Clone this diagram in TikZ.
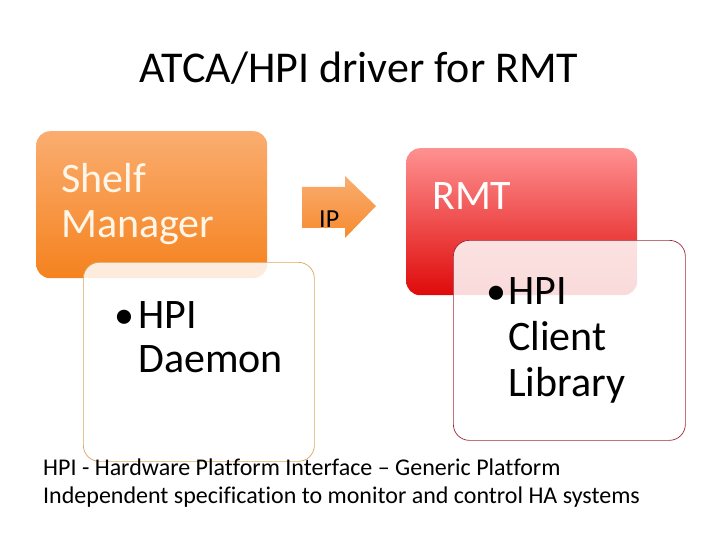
\documentclass[tikz,border=0pt]{standalone}
\usepackage{fontspec}
\setmainfont{Carlito}[Ligatures=NoCommon]
\usepackage{xcolor}
\usetikzlibrary{positioning}

\definecolor{orangetop}{HTML}{FAAD70}
\definecolor{orangebot}{HTML}{F5821E}
\definecolor{redtop}{HTML}{FF9191}
\definecolor{redbot}{HTML}{DF0A0A}
\definecolor{tanline}{HTML}{DDA560}
\definecolor{redline}{HTML}{A0283A}
\definecolor{cream}{HTML}{FFF6E8}

\begin{document}
\begin{tikzpicture}[
  x=1pt, y=-1pt,
  outerbox/.style 2 args={rectangle, rounded corners=14pt, anchor=north west, inner sep=0pt,
    minimum width=231pt, minimum height=147pt, top color=#1, bottom color=#2},
  innerbox/.style={rectangle, rounded corners=16pt, anchor=north west, inner sep=0pt,
    draw=#1, line width=0.7pt, fill=white, fill opacity=0.85,
    minimum width=231pt, minimum height=199pt},
  boxtext/.style={anchor=base west, inner sep=0pt, align=left, font=\fontsize{42}{45}\selectfont},
  bullet/.style={anchor=base west, inner sep=0pt, font=\fontsize{40}{45}\selectfont}
]
  \useasboundingbox (0,0) rectangle (720,540);

  % title
  \node[anchor=base, inner sep=0pt, font=\fontsize{44}{50}\selectfont] (title) at (359,83) {ATCA/HPI driver for RMT};

  % shelf manager side (base = last line)
  \node[outerbox={orangetop}{orangebot}] (shelf) at (36,131) {};
  \node[boxtext, text=cream] (shelftext) at (61,237) {Shelf\\Manager};
  \node[innerbox=tanline] (daemon) at (83,262) {};
  \node[bullet] (daemonbullet) at (114,328) {•};
  \node[boxtext, font=\fontsize{42}{44}\selectfont] (daemontext) at (138,372) {HPI\\Daemon};

  % IP arrow
  \shade[top color=orangetop, bottom color=orangebot!80!orangetop]
    (302,187) -- (345,187) -- (345,176) -- (376,206) -- (345,238) -- (345,228) -- (302,228) -- cycle;
  \node[anchor=base west, inner sep=0pt, font=\fontsize{26}{30}\selectfont] (ip) at (319,228) {IP};

  % RMT side
  \node[outerbox={redtop}{redbot}] (rmt) at (406,148) {};
  \node[boxtext, text=white] (rmttext) at (432,210) {RMT};
  \node[innerbox=redline, minimum width=232pt, minimum height=200pt] (client) at (453,240) {};
  \node[bullet] (clientbullet) at (486,304) {•};
  \node[boxtext, font=\fontsize{42}{46}\selectfont] (clienttext) at (508,396) {HPI\\Client\\Library};

  % footnote
  \node[anchor=base west, inner sep=0pt, align=left, font=\fontsize{24}{28}\selectfont] (note) at (43,503)
    {HPI - Hardware Platform Interface -- Generic Platform\\Independent specification to monitor and control HA systems};
\end{tikzpicture}
\end{document}
